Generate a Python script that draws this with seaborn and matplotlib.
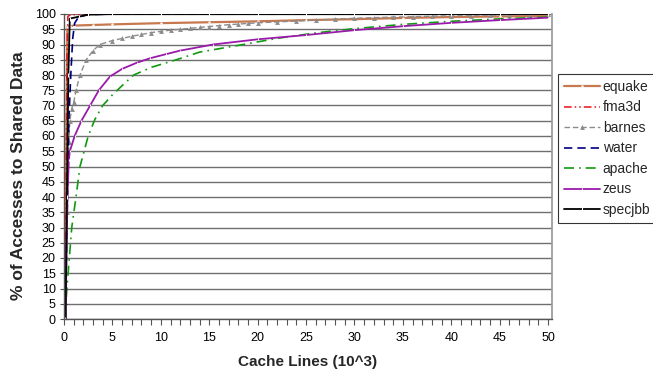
import matplotlib
matplotlib.use("Agg")
import matplotlib.pyplot as plt
import seaborn as sns
import pandas as pd
from matplotlib.ticker import MultipleLocator

sns.set_theme(style="white")
plt.rcParams['font.family'] = ['Liberation Sans', 'DejaVu Sans']

# ---- data ----
equake_x = [0.15, 0.25, 0.35, 0.6, 1, 3, 5, 10, 15, 20, 25, 30, 35, 40, 45, 50]
equake_y = [0, 60, 95.8, 96.0, 96.2, 96.4, 96.6, 97.0, 97.3, 97.6, 98.0, 98.3, 98.7, 99.0, 99.2, 99.4]

fma3d_x = [0.1, 0.2, 0.3, 0.4, 0.6, 1, 2, 5, 10, 20, 30, 40, 50]
fma3d_y = [0, 40, 85, 99.2, 99.6, 99.8, 99.9, 100, 100, 100, 100, 100, 100]

barnes_x = [0.2, 0.35, 0.5, 0.6, 0.8, 1.0, 1.25, 1.65, 2.3, 3, 3.7, 5, 6, 7, 8, 9, 10,
            11, 12, 13, 14, 15, 16, 17, 18, 19, 20, 22, 24, 26, 28, 30, 32, 34, 36,
            38, 40, 42, 44, 46, 48, 50]
barnes_y = [0, 35, 58, 65, 69, 71, 75, 80, 85, 88, 90, 91.3, 92, 92.7, 93.3, 93.9, 94.3,
            94.7, 95, 95.3, 95.6, 95.9, 96.2, 96.5, 96.7, 96.9, 97.1, 97.4, 97.7, 98,
            98.3, 98.6, 98.8, 99, 99.1, 99.3, 99.4, 99.5, 99.6, 99.7, 99.8, 99.9]

water_x = [0.15, 0.3, 0.5, 0.7, 0.9, 1.1, 1.5, 2.5, 5, 10, 20, 30, 40, 50]
water_y = [0, 30, 65, 80, 92, 97, 99, 99.8, 100, 100, 100, 100, 100, 100]

apache_x = [0.1, 0.3, 0.55, 0.8, 1.24, 1.65, 2.5, 3.2, 4, 5, 6, 7.2, 9, 11.6, 14, 18.5, 22, 26, 30, 35, 40, 45, 50]
apache_y = [0, 10, 20, 30, 40, 50, 60, 65.5, 70, 73.5, 76.5, 80, 82.5, 85, 87.5, 90, 92, 93.8, 95.2, 96.6, 97.6, 98.4, 99.0]

zeus_x = [0.15, 0.25, 0.35, 0.5, 0.6, 1.1, 1.8, 2.7, 3.6, 4.75, 6, 7.5, 8.9, 10.5, 12, 15.4, 20, 25, 30, 35, 40, 45, 50]
zeus_y = [0, 20, 40, 52, 55, 60, 65, 70, 75, 79.5, 82, 84, 85.5, 86.8, 88, 90, 91.7, 93.1, 94.7, 96.0, 97.1, 98.0, 98.8]

specjbb_x = [0.15, 0.3, 0.45, 0.6, 1.5, 2.5, 5, 10, 15, 20, 25, 30, 35, 40, 45, 50]
specjbb_y = [0, 40, 80, 98.5, 99.1, 99.8, 100, 100, 100, 100, 100, 100, 100, 100, 100, 100]

x_label = "Cache Lines (10^3)"
y_label = "% of Accesses to Shared Data"

series = [
    ("equake", equake_x, equake_y, dict(color="#C8784E", linestyle="-", linewidth=1.6, marker=".", markersize=2)),
    ("fma3d", fma3d_x, fma3d_y, dict(color="#E8101A", linestyle=(0, (5, 2, 1, 2, 1, 2)), linewidth=1.1)),
    ("barnes", barnes_x, barnes_y, dict(color="#8C8C8C", linestyle=(0, (4, 2)), linewidth=1.0, marker="^", markersize=3.5, markeredgewidth=0)),
    ("water", water_x, water_y, dict(color="#00007F", linestyle=(0, (5, 3)), linewidth=1.2)),
    ("apache", apache_x, apache_y, dict(color="#109A10", linestyle=(0, (6, 3, 1, 3)), linewidth=1.2)),
    ("zeus", zeus_x, zeus_y, dict(color="#9A1AAA", linestyle="-", linewidth=1.3, marker="|", markersize=2)),
    ("specjbb", specjbb_x, specjbb_y, dict(color="#000000", linestyle="-", linewidth=1.3, marker="|", markersize=3)),
]

fig = plt.figure(figsize=(6.53, 3.70), dpi=100)
ax = fig.add_axes([64/653, (370-319)/370, (552-64)/653, (319-14)/370])

for name, xs, ys, st in series:
    df = pd.DataFrame({"x": xs, "y": ys})
    sns.lineplot(data=df, x="x", y="y", ax=ax, label=name, sort=False, estimator=None, **st)

ax.set_xlim(0, 50.4)
ax.set_ylim(0, 100)
ax.yaxis.set_major_locator(MultipleLocator(5))
ax.xaxis.set_major_locator(MultipleLocator(5))
ax.xaxis.set_minor_locator(MultipleLocator(1))
ax.grid(axis="y", color="#6f6f6f", linewidth=1.0)
ax.grid(axis="x", visible=False)
ax.set_axisbelow(True)

for side in ["left", "bottom"]:
    ax.spines[side].set_color("#555555")
    ax.spines[side].set_linewidth(1.0)
ax.spines["right"].set_color("#999999")
ax.spines["top"].set_visible(False)

ax.tick_params(axis="y", which="major", direction="inout", length=6, width=0.8, color="#555555",
               left=True, labelsize=9, pad=3, labelcolor="black")
ax.tick_params(axis="x", which="both", direction="out", length=4, width=0.8, color="#555555",
               bottom=True, labelsize=9, pad=5.5, labelcolor="black")

ax.set_xlabel(x_label, fontsize=11, fontweight="bold")
ax.xaxis.set_label_coords(0.5, -0.118)
ax.set_ylabel(y_label, fontsize=12.5, fontweight="bold")
ax.yaxis.set_label_coords(-0.077, 0.47)

leg = ax.legend(loc="upper left", bbox_to_anchor=(558/653, (370-74)/370),
                bbox_transform=fig.transFigure, frameon=True, fancybox=False,
                fontsize=10, handlelength=2.6, handletextpad=0.2, labelspacing=0.47,
                borderpad=0.42, borderaxespad=0)
leg.get_frame().set_edgecolor("black")
leg.get_frame().set_linewidth(0.8)

fig.savefig("out.png", dpi=100)
